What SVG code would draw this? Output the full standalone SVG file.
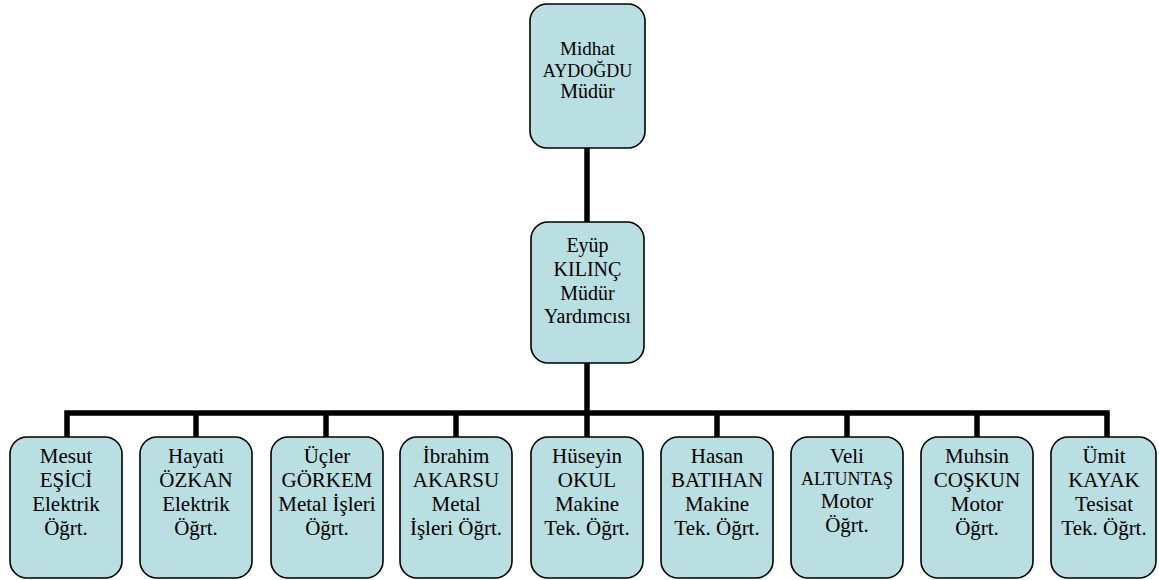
<svg xmlns="http://www.w3.org/2000/svg" width="1159" height="580" viewBox="0 0 1159 580">
<style>
.box{fill:#b9dfe2;stroke:#000;stroke-width:1.6}
text{fill:#000;text-anchor:middle}
.c{fill:none;stroke:#000;stroke-width:5.5;stroke-linejoin:miter}
</style>
<rect width="1159" height="580" fill="#fff"/>
<g id="connectors">
<line class="c" x1="587" y1="148" x2="587" y2="222"/>
<line class="c" x1="587" y1="363" x2="587" y2="437"/>
<path class="c" d="M67 437 V413 H1107 V437"/>
<line class="c" x1="196" y1="413" x2="196" y2="437"/>
<line class="c" x1="326" y1="413" x2="326" y2="437"/>
<line class="c" x1="456" y1="413" x2="456" y2="437"/>
<line class="c" x1="717" y1="413" x2="717" y2="437"/>
<line class="c" x1="847" y1="413" x2="847" y2="437"/>
<line class="c" x1="977" y1="413" x2="977" y2="437"/>
</g>
<g font-family="Liberation Serif, Times New Roman, serif" font-size="21">
<g id="n-midhat">
<rect class="box" x="530" y="4" width="115" height="144" rx="17"/>
<text x="587.5" y="55" font-size="19">Midhat</text>
<text x="587.5" y="77" font-size="18">AYDOĞDU</text>
<text x="587.5" y="98" font-size="20">Müdür</text>
</g>
<g id="n-eyup" font-size="20">
<rect class="box" x="531" y="222" width="113" height="141" rx="17"/>
<text x="587.5" y="252">Eyüp</text>
<text x="587.5" y="276">KILINÇ</text>
<text x="587.5" y="300">Müdür</text>
<text x="587.5" y="323">Yardımcısı</text>
</g>
<g id="n-mesut">
<rect class="box" x="10" y="437" width="112" height="141" rx="17"/>
<text x="66" y="463">Mesut</text>
<text x="66" y="487">EŞİCİ</text>
<text x="66" y="511">Elektrik</text>
<text x="66" y="535">Öğrt.</text>
</g>
<g id="n-hayati">
<rect class="box" x="140" y="437" width="112" height="141" rx="17"/>
<text x="196" y="463">Hayati</text>
<text x="196" y="487">ÖZKAN</text>
<text x="196" y="511">Elektrik</text>
<text x="196" y="535">Öğrt.</text>
</g>
<g id="n-ucler">
<rect class="box" x="271" y="437" width="112" height="141" rx="17"/>
<text x="327" y="463">Üçler</text>
<text x="327" y="487">GÖRKEM</text>
<text x="327" y="511">Metal İşleri</text>
<text x="327" y="535">Öğrt.</text>
</g>
<g id="n-ibrahim">
<rect class="box" x="400" y="437" width="112" height="141" rx="17"/>
<text x="456" y="463">İbrahim</text>
<text x="456" y="487">AKARSU</text>
<text x="456" y="511">Metal</text>
<text x="456" y="535">İşleri Öğrt.</text>
</g>
<g id="n-huseyin">
<rect class="box" x="531" y="437" width="112" height="141" rx="17"/>
<text x="587" y="463">Hüseyin</text>
<text x="587" y="487">OKUL</text>
<text x="587" y="511">Makine</text>
<text x="587" y="535">Tek. Öğrt.</text>
</g>
<g id="n-hasan">
<rect class="box" x="661" y="437" width="112" height="141" rx="17"/>
<text x="717" y="463">Hasan</text>
<text x="717" y="487">BATIHAN</text>
<text x="717" y="511">Makine</text>
<text x="717" y="535">Tek. Öğrt.</text>
</g>
<g id="n-veli">
<rect class="box" x="791" y="437" width="112" height="141" rx="17"/>
<text x="847" y="463">Veli</text>
<text x="847" y="485" font-size="18">ALTUNTAŞ</text>
<text x="847" y="508">Motor</text>
<text x="847" y="532">Öğrt.</text>
</g>
<g id="n-muhsin">
<rect class="box" x="921" y="437" width="112" height="141" rx="17"/>
<text x="977" y="463">Muhsin</text>
<text x="977" y="487">COŞKUN</text>
<text x="977" y="511">Motor</text>
<text x="977" y="535">Öğrt.</text>
</g>
<g id="n-umit">
<rect class="box" x="1051" y="437" width="105" height="141" rx="17"/>
<text x="1104" y="463">Ümit</text>
<text x="1104" y="487">KAYAK</text>
<text x="1104" y="511">Tesisat</text>
<text x="1104" y="535">Tek. Öğrt.</text>
</g>
</g>
</svg>
